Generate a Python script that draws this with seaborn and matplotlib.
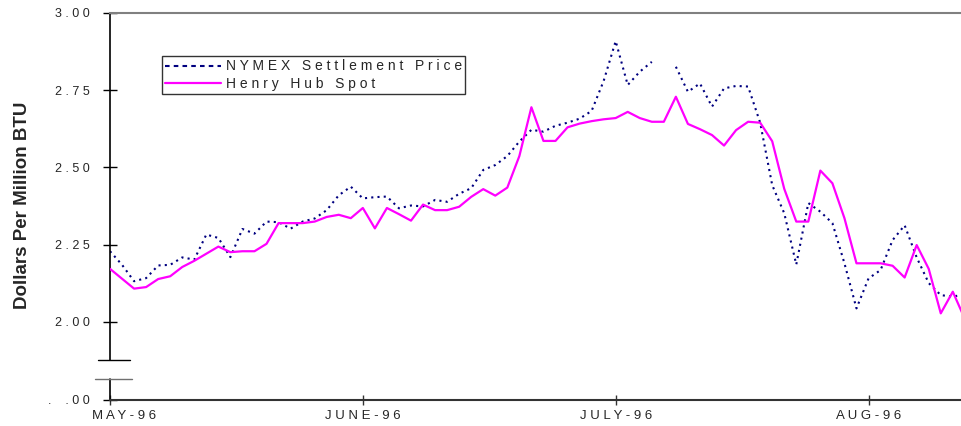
import numpy as np
import pandas as pd
import matplotlib
matplotlib.use("Agg")
import matplotlib.pyplot as plt
import matplotlib.transforms as mtransforms
from matplotlib.lines import Line2D
import seaborn as sns

# ---------------- data ----------------
month_labels = ["MAY-96", "JUNE-96", "JULY-96", "AUG-96"]
month_ticks = [0, 21, 42, 63]          # trading-day index of month starts
y_ticks = [2.00, 2.25, 2.50, 2.75, 3.00]
series_names = ["NYMEX Settlement Price", "Henry Hub Spot"]

nymex = [2.229, 2.185, 2.132, 2.142, 2.183, 2.185, 2.209, 2.202, 2.283, 2.272,
         2.210, 2.301, 2.286, 2.325, 2.323, 2.302, 2.325, 2.335, 2.362, 2.410,
         2.438, 2.400, 2.404, 2.406, 2.368, 2.377, 2.374, 2.395, 2.389, 2.415,
         2.433, 2.492, 2.508, 2.537, 2.584, 2.622, 2.616, 2.635, 2.645, 2.658,
         2.683, 2.780, 2.909, 2.767, 2.810, 2.842, np.nan, 2.826, 2.745, 2.772,
         2.697, 2.756, 2.764, 2.762, 2.645, 2.443, 2.352, 2.186, 2.385, 2.357,
         2.320, 2.190, 2.044, 2.141, 2.168, 2.265, 2.313, 2.209, 2.126, 2.087,
         2.082, 2.090]

henry_hub = [2.172, 2.140, 2.108, 2.113, 2.139, 2.148, 2.178, 2.198, 2.221, 2.244,
             2.226, 2.229, 2.229, 2.253, 2.320, 2.320, 2.320, 2.325, 2.340, 2.347,
             2.336, 2.369, 2.303, 2.369, 2.349, 2.328, 2.380, 2.362, 2.362, 2.373,
             2.405, 2.430, 2.409, 2.435, 2.537, 2.695, 2.586, 2.586, 2.630, 2.642,
             2.650, 2.656, 2.660, 2.680, 2.660, 2.648, 2.648, 2.729, 2.641, 2.624,
             2.605, 2.571, 2.621, 2.648, 2.645, 2.585, 2.431, 2.325, 2.325, 2.490,
             2.449, 2.336, 2.190, 2.190, 2.190, 2.182, 2.144, 2.249, 2.172, 2.028,
             2.098, 2.010]

# ---------------- style ----------------
sns.set_style("white")
plt.rcParams["font.family"] = ["Liberation Sans", "DejaVu Sans"]

NAVY = "#000080"
MAGENTA = "#FF00FF"


def spaced(s):
    return " ".join(s)


days = np.arange(len(henry_hub))
ny = np.array(nymex, dtype=float)
seg = np.cumsum(np.isnan(ny))
df_ny = pd.DataFrame({"day": days, "price": ny, "seg": seg}).dropna()
df_hh = pd.DataFrame({"day": days, "price": henry_hub})

fig = plt.figure(figsize=(9.62, 4.26), dpi=100)
ax = fig.add_axes([110 / 962, 26 / 426, 852 / 962, 387 / 426])

px_per_unit = 309.0            # pixels per 1.00 $/MMBtu
y_bottom = 3.0 - 387 / px_per_unit
ax.set_ylim(y_bottom, 3.0)
ax.set_xlim(0, 852 / 12.04)

sns.lineplot(data=df_ny, x="day", y="price", units="seg", estimator=None,
             color=NAVY, lw=1.5, linestyle=(0, (1, 2)), ax=ax, zorder=2)
sns.lineplot(data=df_hh, x="day", y="price", color=MAGENTA, lw=1.6,
             ax=ax, zorder=3)

# spines / axis break
ax.spines["right"].set_visible(False)
ax.spines["top"].set_color("#808080")
ax.spines["top"].set_linewidth(1.5)
ax.spines["bottom"].set_color("#333333")
ax.spines["bottom"].set_linewidth(1.5)
ax.spines["left"].set_color("black")
ax.spines["left"].set_linewidth(1.2)
brk_hi = 3.0 - 347 / px_per_unit
brk_lo = 3.0 - 366 / px_per_unit
ax.spines["left"].set_bounds(brk_hi, 3.0)
ytr = ax.get_yaxis_transform()
ax.plot([0, 0], [y_bottom, brk_lo], transform=ytr, color="black", lw=1.2,
        clip_on=False)
ax.plot([-12 / 852, 20 / 852], [brk_hi, brk_hi], transform=ytr, color="black",
        lw=1.0, clip_on=False)
ax.plot([-15 / 852, 22 / 852], [brk_lo, brk_lo], transform=ytr, color="#707070",
        lw=1.0, clip_on=False)

# ticks
ax.set_yticks([y_bottom] + y_ticks)
ax.set_yticklabels([".    . 0 0"] + [spaced(f"{v:.2f}") for v in y_ticks])
ax.tick_params(axis="y", direction="inout", length=10, width=1, color="black",
               pad=9.4, labelsize=9, left=True)
ax.set_xticks(month_ticks)
ax.set_xticklabels([spaced(m) for m in month_labels])
ax.tick_params(axis="x", direction="inout", length=6.5, width=1, color="#333333",
               pad=4, labelsize=9.5, bottom=True)
first = ax.get_xaxis().get_major_ticks()[0].label1
first.set_horizontalalignment("left")
first.set_transform(first.get_transform() +
                    mtransforms.ScaledTranslation(-0.18, 0, fig.dpi_scale_trans))

ax.set_xlabel("")
ax.set_ylabel("Dollars Per Million BTU", fontsize=13.5, fontweight="bold")
ax.yaxis.set_label_coords(-0.093, 0.504)
ax.grid(False)

handles = [Line2D([], [], color=NAVY, lw=1.5, linestyle=(0, (2.2, 2))),
           Line2D([], [], color=MAGENTA, lw=1.6)]
leg = ax.legend(handles, [spaced(n) for n in series_names], loc="upper left",
                bbox_to_anchor=(52 / 852, (400 - 56) / 387), borderaxespad=0,
                frameon=True, fancybox=False, edgecolor="black", fontsize=10,
                handlelength=4.0, handletextpad=0.35, labelspacing=0.25,
                borderpad=0.25)
leg.get_frame().set_linewidth(1.0)

fig.savefig("out.png", dpi=100)
